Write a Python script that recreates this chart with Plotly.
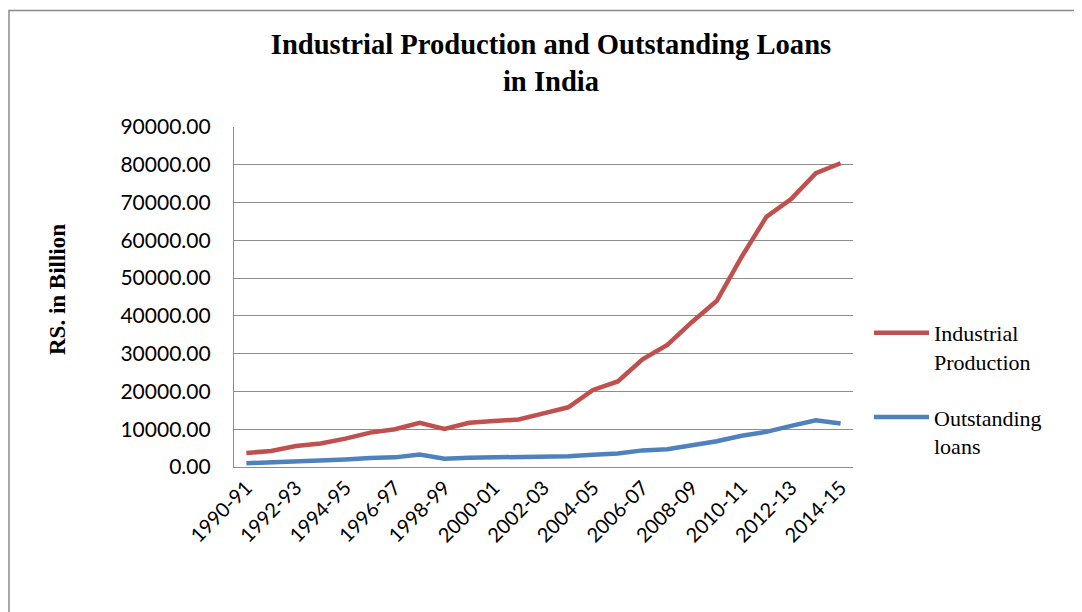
import plotly.graph_objects as go

years = ["1990-91", "1991-92", "1992-93", "1993-94", "1994-95", "1995-96", "1996-97",
         "1997-98", "1998-99", "1999-00", "2000-01", "2001-02", "2002-03", "2003-04",
         "2004-05", "2005-06", "2006-07", "2007-08", "2008-09", "2009-10", "2010-11",
         "2011-12", "2012-13", "2013-14", "2014-15"]

industrial_production = [3700, 4250, 5550, 6200, 7500, 9100, 10000, 11700, 10050, 11700,
                         12150, 12600, 14200, 15800, 20400, 22650, 28500, 32300, 38400,
                         44000, 55600, 66200, 70900, 77800, 80400]

outstanding_loans = [1000, 1200, 1650, 1750, 2000, 2350, 2550, 3300, 2200, 2450,
                     2550, 2650, 2650, 2850, 3250, 3550, 4400, 4700, 5750, 6800,
                     8250, 9300, 10900, 12350, 11500]

tick_labels = years[::2]

RED = "#C0504D"
BLUE = "#4F81BD"
GRID = "#8C8C8C"

fig = go.Figure()
fig.add_trace(go.Scatter(x=years, y=industrial_production, mode="lines",
                         name="Industrial<br>Production", legendgroup="a",
                         line=dict(color=RED, width=4.5)))
fig.add_trace(go.Scatter(x=years, y=outstanding_loans, mode="lines",
                         name="Outstanding<br>loans", legendgroup="b",
                         line=dict(color=BLUE, width=4.5)))

# page body has an 8px margin; work in reference pixel coordinates and shift
OFF = 8
W, H = 1082 - OFF, 612 - OFF
PL, PR, PT, PB = 234, 853, 127, 467   # plot area in reference pixels
L, R, T, B = PL - OFF, W - (PR - OFF), PT - OFF, H - (PB - OFF)
pw = W - L - R
ph = H - T - B

def px_x(x):
    return (x - PL) / pw

def px_y(y):
    return (PB - y) / ph

fig.update_layout(
    width=W, height=H,
    margin=dict(l=L, r=R, t=T, b=B, autoexpand=False),
    paper_bgcolor="white", plot_bgcolor="white",
    title=dict(text="Industrial Production and Outstanding Loans<br>in India",
               font=dict(family="Liberation Serif", size=28.6, color="black", weight="bold"),
               x=(551 - OFF) / W, xanchor="center", xref="container",
               y=1 - 46 / H, yanchor="middle", yref="container"),
    showlegend=True,
    legend=dict(x=px_x(869), y=px_y(312), xanchor="left", yanchor="top",
                font=dict(family="Liberation Serif", size=22, color="black"),
                valign="top", tracegroupgap=24, itemwidth=55, bgcolor="rgba(0,0,0,0)"),
    xaxis=dict(type="category", tickmode="array", tickvals=tick_labels, ticktext=tick_labels,
               tickangle=-45, tickfont=dict(family="Lato", size=20, color="black"),
               showgrid=False, showline=True, linecolor=GRID, linewidth=1.3,
               ticks="", ticklabelstandoff=0, range=[-0.5, len(years) - 0.5], fixedrange=True),
    yaxis=dict(range=[0, 90000], dtick=10000, tickformat=".2f",
               tickfont=dict(family="Lato", size=21, color="black"),
               showgrid=True, gridcolor=GRID, gridwidth=1.3,
               showline=True, linecolor=GRID, linewidth=1.3, zeroline=False,
               ticks="", ticklabelstandoff=18, fixedrange=True),
    annotations=[dict(text="RS. in Billion", textangle=-90, showarrow=False,
                      xref="paper", yref="paper", x=px_x(57), y=px_y(290),
                      xanchor="center", yanchor="middle",
                      font=dict(family="Liberation Serif", size=23, color="black", weight="bold"))],
    shapes=[dict(type="rect", xref="paper", yref="paper",
                 x0=px_x(9), x1=px_x(1200), y0=px_y(700), y1=px_y(10.5),
                 line=dict(color="#8A8A8A", width=1.5), fillcolor="rgba(0,0,0,0)", layer="below")],
)

fig.write_html("out.html")
